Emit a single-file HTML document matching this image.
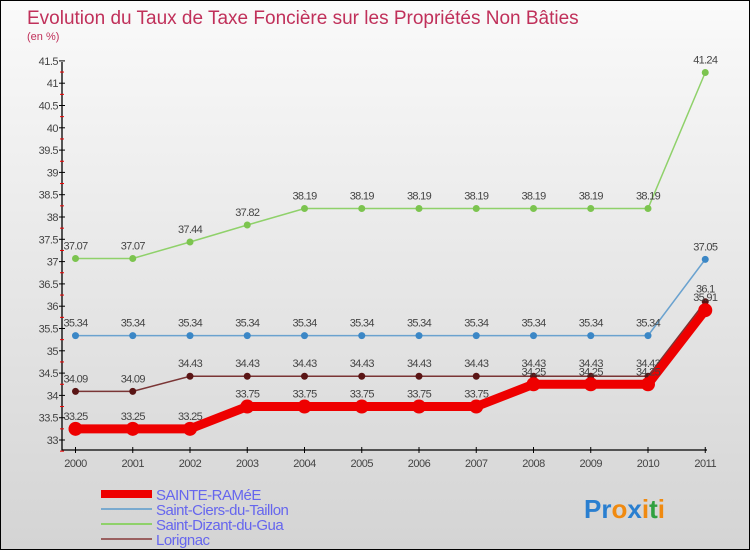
<!DOCTYPE html>
<html><head><meta charset="utf-8"><style>
body{margin:0;width:750px;height:550px;overflow:hidden;font-family:"Liberation Sans",sans-serif}
#wrap{position:relative;width:748px;height:548px;border:1px solid #000;background:linear-gradient(#fafafa,#d4d4d4)}
</style></head><body>
<div id="wrap">
<svg id="c" width="748" height="548" style="position:absolute;left:0;top:0"></svg>
</div>
<script>
const years=[2000,2001,2002,2003,2004,2005,2006,2007,2008,2009,2010,2011];
const sainteRamee=[33.25,33.25,33.25,33.75,33.75,33.75,33.75,33.75,34.25,34.25,34.25,35.91];
const saintCiers=[35.34,35.34,35.34,35.34,35.34,35.34,35.34,35.34,35.34,35.34,35.34,37.05];
const saintDizant=[37.07,37.07,37.44,37.82,38.19,38.19,38.19,38.19,38.19,38.19,38.19,41.24];
const lorignac=[34.09,34.09,34.43,34.43,34.43,34.43,34.43,34.43,34.43,34.43,34.43,36.1];
const yTicks=[33,33.5,34,34.5,35,35.5,36,36.5,37,37.5,38,38.5,39,39.5,40,40.5,41,41.5];
const NS="http://www.w3.org/2000/svg";
const svg=document.getElementById('c');
const xS=i=>74.5+i*57.25;
const yS=v=>439-(v-33)*44.6;
function mk(t,a,p){const e=document.createElementNS(NS,t);for(const k in a)e.setAttribute(k,a[k]);(p||svg).appendChild(e);return e;}
const title=mk('text',{x:26,y:23,'font-size':19,fill:'#c0305a'});title.textContent='Evolution du Taux de Taxe Foncière sur les Propriétés Non Bâties';

const sub=mk('text',{x:26,y:39,'font-size':11,fill:'#c0305a'});sub.textContent='(en %)';

const ax=mk('path',{d:'M61 61V449H706',stroke:'#000','stroke-width':1.3,fill:'none'});

yTicks.forEach(v=>{const y=yS(v);mk('line',{x1:58,x2:64,y1:y,y2:y,stroke:'#000'});
 mk('line',{x1:59,x2:63,y1:y+11.15,y2:y+11.15,stroke:'#e00'});
 const t=mk('text',{x:57,y:y+4,'font-size':11,'text-anchor':'end',fill:'#444','letter-spacing':'-0.5'});t.textContent=v;
 });
years.forEach((yr,i)=>{const x=xS(i);mk('line',{x1:x,x2:x,y1:446,y2:452,stroke:'#000'});
 const t=mk('text',{x:x,y:466,'font-size':11,'text-anchor':'middle',fill:'#444','letter-spacing':'-0.5'});t.textContent=yr;
 });
function series(vals,color,w,r,name,dark){
 const g=mk('g',{});
 mk('polyline',{points:vals.map((v,i)=>xS(i)+','+yS(v)).join(' '),fill:'none',stroke:color,'stroke-width':w},g);
 vals.forEach((v,i)=>{const c=mk('circle',{cx:xS(i),cy:yS(v),r:r,fill:dark||color},g);
  
  const t=mk('text',{x:xS(i),y:yS(v)-9,'font-size':11,'text-anchor':'middle',fill:'#444','letter-spacing':'-0.7'},g);t.textContent=v;
  });
}
series(saintDizant,'#8fd16a',1.5,3.5,'series-saint-dizant','#7cc44f');
series(saintCiers,'#6aa2cf',1.5,3.5,'series-saint-ciers','#3b87c6');
series(lorignac,'#7a3535',1.5,3.5,'series-lorignac','#5a1515');
series(sainteRamee,'#e00',9,7,'series-sainte-ramee','#e00');
const leg=[['SAINTE-RAMéE','#e00',8],['Saint-Ciers-du-Taillon','#7aaacf',2],['Saint-Dizant-du-Gua','#8fd16a',2],['Lorignac','#9a6060',2]];
leg.forEach((l,i)=>{const y=493+i*15;const g=mk('g',{});
 mk('line',{x1:100,x2:151,y1:y,y2:y,stroke:l[1],'stroke-width':l[2]},g);
 const t=mk('text',{x:155,y:y+6,'font-size':15,fill:'#6666ee','letter-spacing':'-0.5'},g);t.textContent=l[0];});
const p=mk('text',{x:583,y:517,'font-size':26,'font-weight':'bold'});

[['Pr','#2a7fd0'],['o','#f08a10'],['x','#2a7fd0'],['i','#f08a10'],['t','#30a040'],['i','#f08a10']].forEach(s=>{const ts=mk('tspan',{fill:s[1]},p);ts.textContent=s[0];});
</script>
</body></html>
